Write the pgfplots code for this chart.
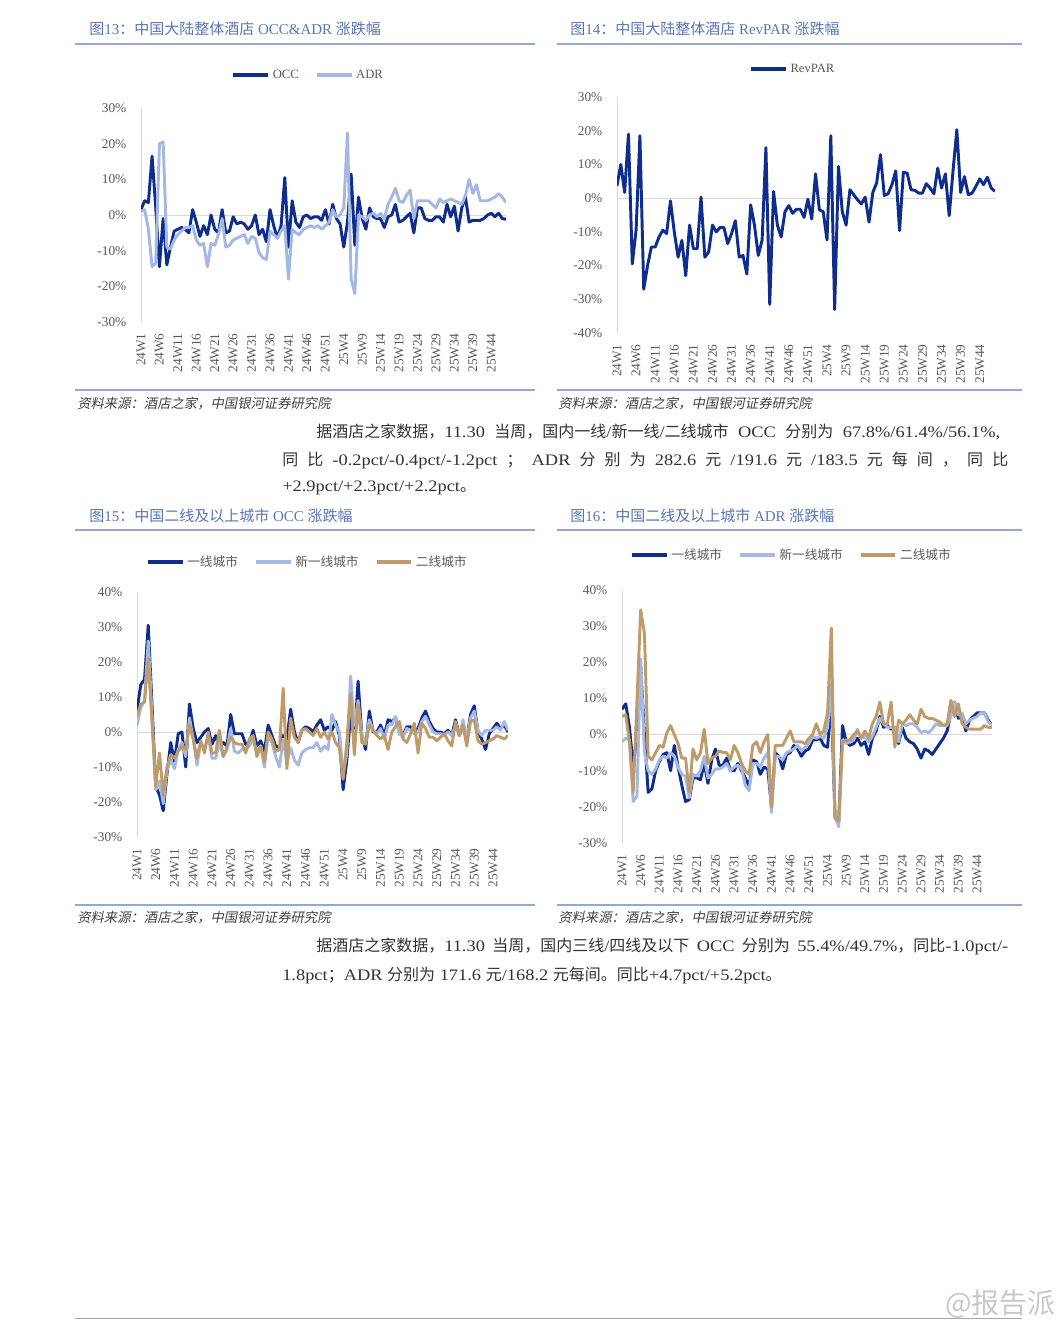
\documentclass[border=0pt]{standalone}
\usepackage{pgfplots}
\pgfplotsset{compat=1.18}
\usepackage{pgfplotstable}
\usepackage{fontspec}
\setmainfont{Liberation Serif}
\newfontfamily\plat{Liberation Serif}[FakeStretch=1.15]
\newfontfamily\cjk{Noto Sans CJK SC}
\newfontfamily\cjkit{Noto Sans CJK SC}[FakeSlant=0.2]

\definecolor{navy}{RGB}{14,45,140}
\definecolor{lblue}{RGB}{164,184,226}
\definecolor{brn}{RGB}{191,155,106}
\definecolor{ttl}{RGB}{88,118,178}
\definecolor{rulec}{RGB}{150,168,210}
\definecolor{tickc}{RGB}{89,89,89}
\definecolor{axg}{RGB}{217,217,217}
\definecolor{txt}{RGB}{51,51,51}
\definecolor{srcc}{RGB}{64,64,64}
\definecolor{wm}{RGB}{200,200,200}

% fig 13: OCC / ADR, weekly yoy
\pgfplotstableread[row sep=\\]{v\\ 1.5\\ 4\\ 3.5\\ 16.5\\ 2\\ -14.5\\ -1\\ -14\\ -9\\ -4.5\\
-4\\ -3.5\\ -4\\ -5\\ 1.5\\ -2\\ -6\\ -3\\ -5.5\\ 0\\
-4\\ -5\\ 1.5\\ -5\\ -4.5\\ -0.5\\ -2.5\\ -2\\ -2.5\\ -4\\
-3\\ 0\\ -5.5\\ -4\\ -7.5\\ 1.5\\ -3\\ -6.5\\ -3\\ 10.5\\
-9\\ 4\\ -2\\ -3.5\\ -0.5\\ 0\\ -1\\ -0.5\\ -0.5\\ -1.5\\
1.5\\ -2.5\\ 3\\ -1\\ -2.5\\ -9\\ -2\\ 11.5\\ -8.5\\ 5\\
-1\\ -4\\ 2\\ -0.5\\ -1\\ -1\\ -3.5\\ -0.5\\ 0\\ 3\\
-2\\ -1.5\\ -0.5\\ 0.5\\ -5\\ 2\\ 2\\ -1\\ -1.5\\ -1.5\\
-0.5\\ -0.5\\ -2\\ 3\\ -0.5\\ 2.5\\ -4.5\\ 2\\ 5\\ -2\\
-1.5\\ -1.5\\ -1.5\\ -1\\ 0\\ 0.5\\ -0.5\\ 0.5\\ -1\\ -1.2\\}\tOcc
\pgfplotstableread[row sep=\\]{v\\ 1\\ 1.5\\ -4\\ -14.5\\ -13.5\\ 20\\ 20.5\\ -9\\ -9.5\\ -7\\
-5.5\\ -4.5\\ -3.5\\ -3.5\\ -3\\ -7\\ -8.5\\ -8\\ -14.5\\ -8\\
-8.5\\ -5.5\\ -1\\ -9\\ -8.5\\ -7\\ -6.5\\ -6\\ -5.5\\ -8\\
-6\\ -6.5\\ -10.5\\ -12\\ -12.5\\ -4.5\\ -5.5\\ -6.5\\ -4.5\\ -3\\
-18\\ -4\\ -5\\ -5.5\\ -4\\ -3.5\\ -3\\ -3.5\\ -3\\ -4\\
-3\\ -2\\ 1.5\\ -0.5\\ 0\\ 2\\ 23\\ -18\\ -22\\ 0\\
-0.5\\ -1.5\\ 0\\ 0.5\\ -0.5\\ 0.5\\ -1\\ 3\\ 5\\ 7.5\\
4\\ 3.5\\ 5.5\\ 7\\ -1\\ 4\\ 4\\ 4\\ 4\\ 3\\
2\\ 4.5\\ 3.5\\ 4\\ 4.5\\ 4\\ 3.5\\ 3\\ 5.5\\ 10\\
6\\ 8.5\\ 4\\ 4\\ 4\\ 4.5\\ 5\\ 6\\ 5\\ 3.5\\}\tAdr
% fig 14: RevPAR
\pgfplotstableread[row sep=\\]{v\\ 3.7\\ 10\\ 1.7\\ 19\\ -19.5\\ -9.5\\ 18.5\\ -27\\ -20\\ -14.5\\
-14.5\\ -11.5\\ -9.5\\ -10.5\\ -0.8\\ -10\\ -17.5\\ -12.5\\ -23\\ -8\\
-15\\ -15\\ 0.3\\ -17.5\\ -16\\ -8\\ -10\\ -8.7\\ -8.7\\ -13.5\\
-10.5\\ -6.7\\ -17.5\\ -17\\ -22.5\\ -2\\ -8\\ -17\\ -12.5\\ 15\\
-31.5\\ 2\\ -8\\ -11.5\\ -4\\ -2.2\\ -4.5\\ -3.3\\ -3.3\\ -5.7\\
-0.3\\ -6.2\\ 7.2\\ -3.5\\ -4\\ -12.4\\ 18.5\\ -33\\ 9.4\\ -4\\
-8\\ 2.5\\ 1\\ -0.5\\ -1.7\\ 0.3\\ -7.1\\ 1.7\\ 4.5\\ 12.9\\
0.8\\ 1.3\\ 4\\ 8.1\\ -9.6\\ 7.7\\ 7.4\\ 2.5\\ 2.3\\ 1.5\\
1.5\\ 4.3\\ 3\\ 1.3\\ 8.9\\ 3\\ 7.2\\ -5.2\\ 8\\ 20.3\\
1.7\\ 6.4\\ 1\\ 1.5\\ 3.5\\ 5.7\\ 4\\ 6.2\\ 3\\ 2\\}\tRev
% fig 15: OCC by city tier
\pgfplotstableread[row sep=\\]{v\\ 6\\ 13.5\\ 15\\ 30.5\\ 8\\ -15.5\\ -18\\ -22.5\\ -12\\ -3\\
-8.5\\ -0.5\\ 0\\ -10\\ 8\\ 1\\ -3\\ -1.5\\ 0\\ 1\\
-3.5\\ -1\\ -4.5\\ -3\\ -4\\ 5\\ -0.5\\ -0.5\\ -0.5\\ -3.5\\
-3\\ 0.5\\ -4\\ -2.5\\ -5.5\\ 2\\ -1\\ -4\\ -4.5\\ -1\\
-2\\ 6.5\\ 0\\ -3\\ 0.5\\ 1.5\\ 1\\ 0\\ 2\\ 3.5\\
0.5\\ 1.5\\ 0.5\\ 3\\ -1\\ -16.5\\ -8\\ 5\\ -2\\ 14.5\\
-1\\ -5\\ 6\\ 0\\ 0\\ 2\\ -1\\ 3.5\\ 3\\ 4\\
0\\ -1\\ 1.5\\ 1.5\\ 0\\ 1\\ 4\\ 6\\ 3\\ 1\\
0\\ 0\\ -0.5\\ 0.5\\ -1\\ 3.5\\ -1\\ 2\\ -2\\ 5\\
7.5\\ 0\\ -2\\ -5\\ -0.5\\ 1\\ 2.5\\ 1\\ 2\\ 0\\}\tOccA
\pgfplotstableread[row sep=\\]{v\\ 2\\ 7\\ 9\\ 26\\ 5\\ -16.5\\ -14\\ -20.5\\ -11\\ -8\\
-10.5\\ -5\\ -3\\ -7\\ 4\\ -2\\ -9.5\\ -3\\ -5\\ -1\\
-7.5\\ -7.5\\ -3\\ -7\\ -5\\ 1\\ -5.5\\ -6\\ -5\\ -5\\
-4\\ -2\\ -6\\ -4\\ -10\\ -1\\ -3\\ -7\\ -10\\ -2\\
-9\\ -4.5\\ -8\\ -9.5\\ -6\\ -5\\ -4.5\\ -4.5\\ -3\\ -5.5\\
-4\\ -5\\ 5\\ 2\\ 0\\ -12\\ -6\\ 16\\ 2\\ 9\\
-1\\ -3\\ 3.5\\ 0.5\\ -0.5\\ 1\\ -2\\ 2\\ 2\\ 4.5\\
-0.5\\ -1.5\\ 1\\ 0.5\\ -0.5\\ 0\\ 3\\ 4.5\\ 2\\ 0\\
-0.5\\ -0.5\\ -1\\ 0\\ -1\\ 2\\ -1\\ 3.5\\ -2\\ 4\\
6\\ 0.5\\ -1\\ 0.5\\ 0.5\\ 0.5\\ 1.5\\ 0.5\\ 3\\ 0.5\\}\tOccB
\pgfplotstableread[row sep=\\]{v\\ 4.5\\ 8\\ 8.5\\ 21\\ 3\\ -15.5\\ -6\\ -18\\ -10\\ -6.5\\
-7.5\\ -5.5\\ -4\\ -5\\ 2\\ -2\\ -7.5\\ -2.5\\ -6\\ 0\\
-6\\ -6\\ 0.5\\ -7\\ -4.5\\ -1.5\\ -3\\ -3.5\\ -3.5\\ -6\\
-2\\ -1\\ -7\\ -4\\ -8.5\\ 0\\ -2\\ -5.5\\ -5\\ 12.5\\
-10.5\\ 4\\ -1.5\\ -3\\ 0.5\\ 1\\ 0\\ -1\\ 1\\ -1.5\\
0\\ -2\\ 0\\ -3\\ -4.5\\ -13.5\\ -3\\ 11\\ -6.5\\ 8\\
-3\\ -3.5\\ 2\\ 0.5\\ -1\\ -2\\ -1\\ -5\\ 0\\ 1.5\\
3\\ -2\\ -3\\ -0.5\\ 2.5\\ -6\\ 2.5\\ 1\\ -1.5\\ -1.5\\
-2.5\\ -1.5\\ -0.5\\ -2.5\\ -4\\ 3\\ -1\\ 2\\ -4\\ 3\\
3.5\\ -2.5\\ -3.5\\ -3\\ -2.5\\ -2\\ -1\\ -1.5\\ -2\\ -1\\}\tOccC
% fig 16: ADR by city tier
\pgfplotstableread[row sep=\\]{v\\ 7\\ 8.5\\ 2\\ -9\\ 0\\ 19\\ 0\\ -16\\ -15\\ -10\\
-7.5\\ -5.5\\ -5\\ -10\\ -3\\ -9\\ -14\\ -18.5\\ -18\\ -12\\
-12\\ -12.5\\ -8\\ -13.5\\ -7\\ -4\\ -8.5\\ -8.5\\ -6.5\\ -10\\
-10\\ -8\\ -10\\ -12\\ -14.5\\ -7\\ -7.5\\ -11\\ -9\\ -9.5\\
-20\\ -5\\ -6\\ -9.5\\ -5.5\\ -5\\ -3\\ -4\\ -6\\ -4.5\\
-4\\ -1.5\\ -1.5\\ -1\\ -3\\ -3.5\\ 10\\ -23\\ -24\\ 2.5\\
-2\\ -3\\ -2.5\\ -1\\ -3\\ -2\\ -5.5\\ -1\\ 1\\ 5\\
2\\ 2.5\\ 1.5\\ 2\\ -2.5\\ 2\\ -1\\ -2\\ -2.5\\ -4\\
-6.5\\ -4\\ -4.5\\ -5.5\\ -4\\ -2.5\\ -1\\ 1\\ 6\\ 9\\
4.5\\ 5\\ 1\\ 4\\ 5\\ 6\\ 6\\ 6\\ 4\\ 2.5\\}\tAdrA
\pgfplotstableread[row sep=\\]{v\\ -2\\ -1\\ -1.5\\ -18.5\\ -17\\ 21\\ -5\\ -10\\ -11\\ -9.5\\
-7\\ -6\\ -6.5\\ -5\\ -6\\ -9\\ -11\\ -11.5\\ -17.5\\ -11\\
-11.5\\ -10\\ -6\\ -12\\ -11\\ -9.5\\ -9.5\\ -9\\ -8\\ -10\\
-9\\ -8.5\\ -9.5\\ -14\\ -15.5\\ -8\\ -8\\ -9\\ -6.5\\ -5\\
-21.5\\ -6\\ -6\\ -7\\ -5\\ -4.5\\ -4\\ -3\\ -4.5\\ -3.5\\
-2.5\\ -0.5\\ -1\\ -0.5\\ -1\\ 2\\ 14\\ -23\\ -25.5\\ -1.5\\
-2.5\\ -2\\ -1.5\\ 1.5\\ -1\\ -0.5\\ -2\\ -0.5\\ 2\\ 4.5\\
3\\ 2\\ 2\\ 2\\ -2\\ 3\\ 2.5\\ 3\\ 3\\ 2\\
0.5\\ 1\\ 0.5\\ 1.5\\ 3\\ 2.5\\ 2.5\\ 2.5\\ 5\\ 9\\
5.5\\ 6\\ 3\\ 4\\ 4.5\\ 5\\ 6\\ 6\\ 3.5\\ 2.5\\}\tAdrB
\pgfplotstableread[row sep=\\]{v\\ 5\\ 5.5\\ -2\\ -16\\ 9\\ 34.5\\ 28\\ -6\\ -7\\ -5\\
-3\\ -3.5\\ 0.5\\ 2.5\\ 0\\ -2.5\\ -6.5\\ -6.5\\ -16\\ -4\\
-7\\ -5\\ 1.5\\ -8\\ -6.5\\ -6\\ -4.5\\ -5\\ -5\\ -7\\
-3\\ -5\\ -8\\ -10\\ -11\\ -3\\ -2\\ -5\\ -2\\ 0\\
-20\\ -3\\ -3\\ -3\\ -1\\ 1\\ -2\\ -2\\ -2\\ -2.5\\
-1\\ 0\\ 3\\ 0\\ 1\\ 6\\ 29.5\\ -23\\ -24\\ -2\\
-1.5\\ -1.5\\ 0\\ 1\\ -1\\ 1\\ -1\\ 3\\ 5\\ 9\\
3\\ 3\\ 9\\ -3.5\\ 4\\ 3\\ 4\\ 5.5\\ 4\\ 3\\
7\\ 5\\ 4.5\\ 4.5\\ 4\\ 3.5\\ 2.5\\ 3\\ 9.5\\ 5\\
8.5\\ 3\\ 2\\ 1.5\\ 1.5\\ 1.5\\ 1.5\\ 2.5\\ 2\\ 2\\}\tAdrC

\pgfplotsset{hotel/.style={
  scale only axis, anchor=south west,
  xmin=0, xmax=99,
  axis y line*=left, axis x line*=bottom,
  x axis line style={draw=none},
  y axis line style={draw=axg, line width=0.75pt},
  major tick length=0pt,
  xtick={0,5,...,95},
  xticklabels={24W1,24W6,24W11,24W16,24W21,24W26,24W31,24W36,24W41,24W46,24W51,25W4,25W9,25W14,25W19,25W24,25W29,25W34,25W39,25W44},
  xticklabel style={rotate=90, anchor=east, font=\fontsize{10}{12}\selectfont, text=tickc},
  yticklabel style={font=\fontsize{10}{12}\selectfont, text=tickc},
  xticklabel shift=5pt, yticklabel shift=7.5pt,
  extra y ticks={0}, extra y tick labels={},
  extra y tick style={grid=major, major grid style={draw=axg, line width=0.75pt}},
  legend columns=-1,
  legend style={draw=none, fill=none, font=\fontsize{9.5}{11}\selectfont, text=tickc,
    anchor=center, /tikz/every even column/.append style={column sep=10pt}},
  legend image code/.code={\draw[##1, line width=3pt] (0pt,0pt) -- (26pt,0pt);},
  every axis plot/.append style={line width=2.2pt, line join=round, mark=none},
}}

\begin{document}
\begin{tikzpicture}
\useasboundingbox (0pt,0pt) rectangle (795.75pt,-990pt);

\begin{axis}[hotel, at={(105.75pt,-241.5pt)}, width=273.75pt, height=160.5pt,
  ymin=-30, ymax=30, ytick={-30,-20,...,30},
  yticklabels={-30\%,-20\%,-10\%,0\%,10\%,20\%,30\%},
  legend style={at={(0.459,1.154)}}]
\addplot[draw=navy] table[x expr=\coordindex, y=v] {\tOcc};
\addlegendentry{OCC}
\addplot[draw=lblue] table[x expr=\coordindex, y=v] {\tAdr};
\addlegendentry{ADR}
\end{axis}

\begin{axis}[hotel, at={(462.75pt,-249.75pt)}, width=283.5pt, height=177pt,
  ymin=-40, ymax=30, ytick={-40,-30,...,30},
  yticklabels={-40\%,-30\%,-20\%,-10\%,0\%,10\%,20\%,30\%},
  legend style={at={(0.466,1.119)}}]
\addplot[draw=navy] table[x expr=\coordindex, y=v] {\tRev};
\addlegendentry{RevPAR}
\end{axis}

\begin{axis}[hotel, at={(102.75pt,-627.75pt)}, width=278.25pt, height=183.75pt,
  ymin=-30, ymax=40, ytick={-30,-20,...,40},
  yticklabels={-30\%,-20\%,-10\%,0\%,10\%,20\%,30\%,40\%},
  legend style={at={(0.46,1.122)}}]
\addplot[draw=navy] table[x expr=\coordindex, y=v] {\tOccA};
\addlegendentry{\cjk 一线城市}
\addplot[draw=lblue] table[x expr=\coordindex, y=v] {\tOccB};
\addlegendentry{\cjk 新一线城市}
\addplot[draw=brn] table[x expr=\coordindex, y=v] {\tOccC};
\addlegendentry{\cjk 二线城市}
\end{axis}

\begin{axis}[hotel, at={(466.5pt,-632.25pt)}, width=277.5pt, height=189.75pt,
  ymin=-30, ymax=40, ytick={-30,-20,...,40},
  yticklabels={-30\%,-20\%,-10\%,0\%,10\%,20\%,30\%,40\%},
  legend style={at={(0.459,1.138)}}]
\addplot[draw=navy] table[x expr=\coordindex, y=v] {\tAdrA};
\addlegendentry{\cjk 一线城市}
\addplot[draw=lblue] table[x expr=\coordindex, y=v] {\tAdrB};
\addlegendentry{\cjk 新一线城市}
\addplot[draw=brn] table[x expr=\coordindex, y=v] {\tAdrC};
\addlegendentry{\cjk 二线城市}
\end{axis}

\begin{scope}[x=0.75pt, y=-0.75pt]
% titles and rules
\tikzset{ttlnode/.style={anchor=west, inner sep=0pt, text=ttl, font=\fontsize{11.25}{13}\selectfont},
  srcnode/.style={anchor=west, inner sep=0pt, text=srcc, font=\fontsize{10}{12}\selectfont},
  parnode/.style={anchor=west, inner sep=0pt, text=txt, font=\plat\fontsize{12}{14}\selectfont}}
\node[ttlnode] at (89,29) {{\cjk 图}13{\cjk ：中国大陆整体酒店} OCC\&ADR {\cjk 涨跌幅}};
\node[ttlnode] at (570,29) {{\cjk 图}14{\cjk ：中国大陆整体酒店} RevPAR {\cjk 涨跌幅}};
\node[ttlnode] at (89,516) {{\cjk 图}15{\cjk ：中国二线及以上城市} OCC {\cjk 涨跌幅}};
\node[ttlnode] at (570,516) {{\cjk 图}16{\cjk ：中国二线及以上城市} ADR {\cjk 涨跌幅}};
\foreach \yy in {44,390,530,905} {
  \draw[rulec, line width=1.1pt] (75,\yy) -- (535,\yy);
  \draw[rulec, line width=1.1pt] (557,\yy) -- (1022,\yy);
}
\node[srcnode] at (77,404) {\cjkit 资料来源：酒店之家，中国银河证券研究院};
\node[srcnode] at (558,404) {\cjkit 资料来源：酒店之家，中国银河证券研究院};
\node[srcnode] at (77,918) {\cjkit 资料来源：酒店之家，中国银河证券研究院};
\node[srcnode] at (558,918) {\cjkit 资料来源：酒店之家，中国银河证券研究院};
% paragraphs
\node[parnode] at (316,432) {\makebox[513pt][s]{{\cjk 据酒店之家数据，}11.30 {\cjk 当周，国内一线}/{\cjk 新一线}/{\cjk 二线城市} OCC {\cjk 分别为} 67.8\%/61.4\%/56.1\%,}};
\node[parnode] at (282,460) {\makebox[544.5pt][s]{{\cjk 同} {\cjk 比} -0.2pct/-0.4pct/-1.2pct {\cjk ；} ADR {\cjk 分} {\cjk 别} {\cjk 为} 282.6 {\cjk 元} /191.6 {\cjk 元} /183.5 {\cjk 元} {\cjk 每} {\cjk 间} {\cjk ，} {\cjk 同} {\cjk 比}}};
\node[parnode] at (282,488) {+2.9pct/+2.3pct/+2.2pct{\cjk 。}};
\node[parnode] at (316,946) {\makebox[519pt][s]{{\cjk 据酒店之家数据，}11.30 {\cjk 当周，国内三线}/{\cjk 四线及以下} OCC {\cjk 分别为} 55.4\%/49.7\%{\cjk ，同比}-1.0pct/-}};
\node[parnode] at (282,975) {1.8pct{\cjk ；}ADR {\cjk 分别为} 171.6 {\cjk 元}/168.2 {\cjk 元每间。同比}+4.7pct/+5.2pct{\cjk 。}};
% footer
\draw[gray!70, line width=0.75pt] (75,1318) -- (1022,1318);
\node[anchor=east, inner sep=0pt, text=wm, font=\fontsize{21}{24}\selectfont] at (1056,1304) {\cjk @报告派};
\end{scope}
\end{tikzpicture}
\end{document}
